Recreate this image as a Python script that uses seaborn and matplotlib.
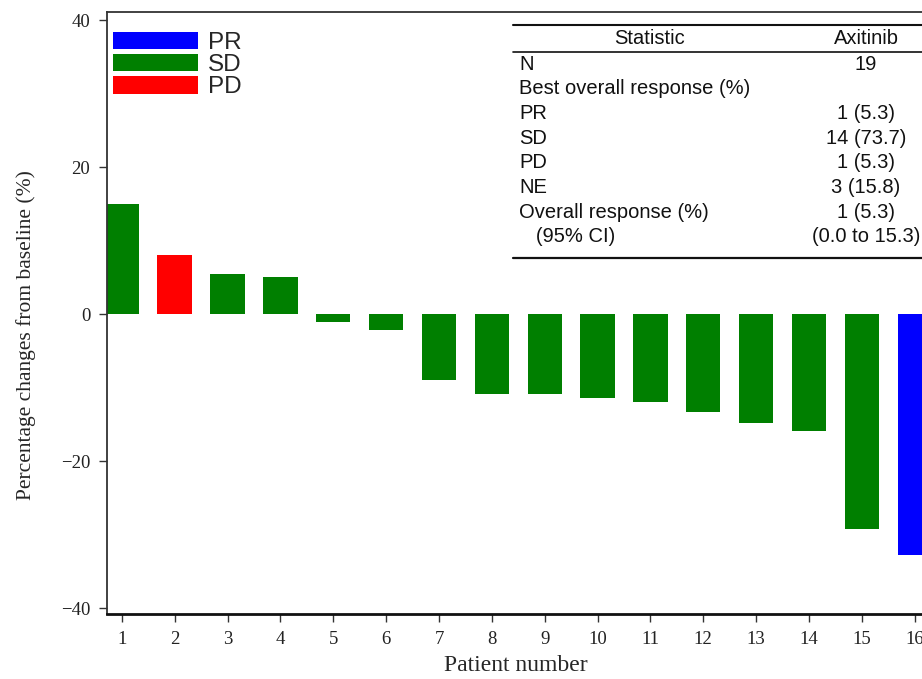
import matplotlib
matplotlib.use("Agg")
import matplotlib.pyplot as plt
from matplotlib.patches import Patch
from matplotlib.lines import Line2D
import seaborn as sns
import pandas as pd

# data
patients = list(range(1, 17))
changes = [15.0, 8.0, 5.5, 5.0, -1.1, -2.2, -9.0, -10.9, -10.9, -11.4,
           -12.0, -13.3, -14.8, -15.9, -29.2, -32.8]
response = ['SD', 'PD', 'SD', 'SD', 'SD', 'SD', 'SD', 'SD', 'SD', 'SD',
            'SD', 'SD', 'SD', 'SD', 'SD', 'PR']
categories = ['PR', 'SD', 'PD']
colors = {'PR': '#0000ff', 'SD': '#007f00', 'PD': '#ff0000'}

# summary table
stat_labels = ['N', 'Best overall response (%)', 'PR', 'SD', 'PD', 'NE',
               'Overall response (%)', '   (95% CI)']
stat_values = ['19', '', '1 (5.3)', '14 (73.7)', '1 (5.3)', '3 (15.8)',
               '1 (5.3)', '(0.0 to 15.3)']

df = pd.DataFrame({'patient': patients, 'change': changes, 'response': response})

sns.set_theme(style="white")
plt.rcParams['font.family'] = ['Liberation Serif', 'DejaVu Serif']

fig = plt.figure(figsize=(9.22, 6.79), dpi=100)
W, H = 922, 679
ax = fig.add_axes([107 / W, 65 / H, 850 / W, (614 - 12) / H])

sns.barplot(data=df, x='patient', y='change', hue='response', palette=colors,
            hue_order=categories, dodge=False, width=0.65, saturation=1,
            legend=False, ax=ax, edgecolor='none')

ax.set_xlim(-0.28, 15.8)
ax.set_ylim(-40.8, 41.1)
ax.set_yticks([-40, -20, 0, 20, 40])
ax.set_yticklabels(['\u221240', '\u221220', '0', '20', '40'])
ax.set_xticks(range(len(patients)))
ax.set_xticklabels([str(p) for p in patients])
ax.tick_params(axis='both', which='both', direction='out', length=6, width=1,
               color='#333333', labelsize=13.5, labelcolor='#222222',
               bottom=True, left=True, pad=6)
ax.set_xlabel('Patient number', fontsize=17)
ax.set_ylabel('Percentage changes from baseline (%)', fontsize=15.5)
ax.xaxis.set_label_coords(0.481, -0.068)
ax.yaxis.set_label_coords(-0.084, 0.463)

for s in ['left', 'top']:
    ax.spines[s].set_color('#333333')
    ax.spines[s].set_linewidth(1.3)
ax.spines['bottom'].set_color('#111111')
ax.spines['bottom'].set_linewidth(2)
ax.spines['right'].set_visible(False)

handles = [Patch(facecolor=colors[c], edgecolor='none', label=c) for c in categories]
ax.legend(handles=handles, loc='upper left', bbox_to_anchor=(6 / 850, 1 - 20 / 602),
          frameon=False, borderaxespad=0, borderpad=0, handlelength=3.5,
          handleheight=0.72, handletextpad=0.4, labelspacing=0.0,
          prop={'family': 'Liberation Sans', 'size': 17.5})

# table drawn in figure pixel coordinates
def fx(px):
    return px / W

def fy(py):
    return 1 - py / H

for y_line, lw in [(25, 1.5), (52, 1.2), (258, 1.6)]:
    fig.add_artist(Line2D([fx(513), fx(925)], [fy(y_line), fy(y_line)],
                          color='#111111', lw=lw))

tfont = {'family': 'Liberation Sans', 'size': 14.5, 'color': '#111111'}
fig.text(fx(650), fy(39), 'Statistic', ha='center', va='center', **tfont)
fig.text(fx(866), fy(39), 'Axitinib', ha='center', va='center', **tfont)
for i, (lab, val) in enumerate(zip(stat_labels, stat_values)):
    yy = 64 + i * 24.7
    fig.text(fx(519), fy(yy), lab, ha='left', va='center', **tfont)
    fig.text(fx(866), fy(yy), val, ha='center', va='center', **tfont)

fig.savefig('out.png', dpi=100)
